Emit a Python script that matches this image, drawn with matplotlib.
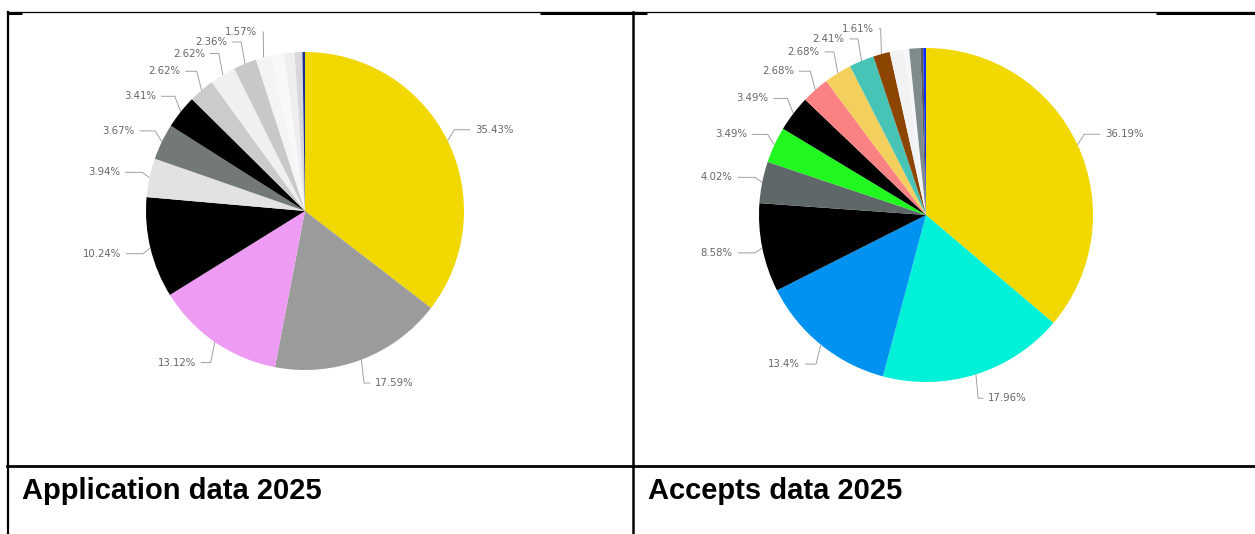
import numpy as np
import matplotlib.pyplot as plt

# share of each group, clockwise from 12 o'clock (percent)
app_share = [35.43, 17.59, 13.12, 10.24, 3.94, 3.67, 3.41, 2.62, 2.62, 2.36, 1.57,
             1.31, 1.05, 0.79, 0.26]
app_colors = ['#f0d800', '#9b9b9b', '#ee9cf3', '#000000', '#e2e2e2', '#737878', '#000000',
              '#cbcbcb', '#f0f0f2', '#c8c8c8', '#f4f4f6', '#f8f8fa', '#eeeef0', '#d8d8dc',
              '#1c2f8f']

acc_share = [36.19, 17.96, 13.4, 8.58, 4.02, 3.49, 3.49, 2.68, 2.68, 2.41, 1.61,
             1.34, 0.54, 1.07, 0.27, 0.27]
acc_colors = ['#f0d800', '#00f0d8', '#0092f0', '#000000', '#5e6868', '#20f820', '#000000',
              '#fa8282', '#f3cf5e', '#48c4b7', '#8b4500', '#f1f2f4', '#f6f6f8', '#7f8b8b',
              '#555a5a', '#0a2cff']

captions = ["Application data 2025", "Accepts data 2025"]

label_min = 1.5   # smaller slices get no label


def spread(ys, gap):
    ys = list(ys)
    for _ in range(200):
        moved = False
        for i in range(len(ys) - 1):
            d = ys[i + 1] - ys[i]
            if d < gap - 1e-6:
                s = (gap - d) / 2
                ys[i] -= s
                ys[i + 1] += s
                moved = True
        if not moved:
            break
    return ys


def draw_pie(ax, values, colors, center, radius):
    wedges, _ = ax.pie(values, colors=colors, center=center, radius=radius,
                       startangle=90, counterclock=False,
                       wedgeprops=dict(linewidth=0))
    R = radius + 25
    items = []
    for w, v in zip(wedges, values):
        if v < label_min:
            continue
        ang = np.deg2rad((w.theta1 + w.theta2) / 2)
        ex = center[0] + radius * np.cos(ang)
        ey = center[1] + radius * np.sin(ang)
        side = 1 if np.cos(ang) >= 0 else -1
        items.append((side, center[1] + R * np.sin(ang), ex, ey, v))

    for side in (1, -1):
        group = sorted([it for it in items if it[0] == side], key=lambda it: it[1])
        ys = spread([it[1] for it in group], 10)
        for it, y in zip(group, ys):
            _, _, ex, ey, v = it
            dy = y - center[1]
            lx = center[0] + side * np.sqrt(max(R ** 2 - dy ** 2, 0))
            crook = lx + (ex - lx) * 0.7
            ax.plot([lx, crook, ex], [y, y, ey], color='#a0a0a0', lw=0.7,
                    solid_capstyle='butt')
            ax.text(lx + side * 5, y, f"{v:g}%", ha='left' if side > 0 else 'right',
                    va='center', fontsize=7.3, color='#666666', family='DejaVu Sans')


fig = plt.figure(figsize=(12.55, 5.34), dpi=100)
ax = fig.add_axes([0, 0, 1, 1])

draw_pie(ax, app_share, app_colors, (305, 323), 159)
draw_pie(ax, acc_share, acc_colors, (926, 319), 167)

# table rules
ax.plot([7, 1255], [522, 522], color='black', lw=0.9)
for x0, x1 in [(7, 22), (540, 647), (1156, 1255)]:
    ax.plot([x0, x1], [521.3, 521.3], color='black', lw=2.2, solid_capstyle='butt')
ax.plot([8, 8], [0, 522], color='black', lw=1.6)
ax.plot([633, 633], [0, 522], color='black', lw=1.8)
ax.plot([7, 1255], [68, 68], color='black', lw=2.0)

ax.text(22, 35, captions[0], fontsize=21, fontweight='bold', family='Liberation Sans',
        va='baseline', ha='left')
ax.text(648, 35, captions[1], fontsize=21, fontweight='bold', family='Liberation Sans',
        va='baseline', ha='left')

ax.set_xlim(0, 1255)
ax.set_ylim(0, 534)
ax.set_aspect('equal')
ax.axis('off')

fig.savefig('out.png', dpi=100)
